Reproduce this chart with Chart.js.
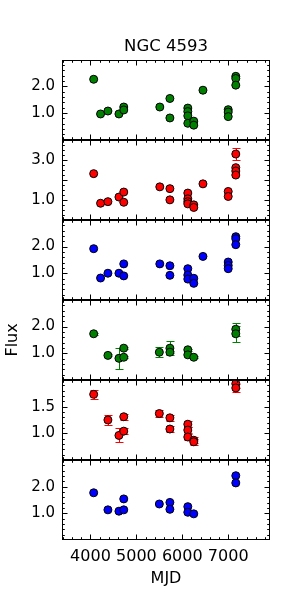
<!DOCTYPE html>
<html>
<head>
<meta charset="utf-8">
<script src="https://cdn.jsdelivr.net/npm/chart.js@4.4.0/dist/chart.umd.min.js"></script>
<style>
  html, body { margin: 0; padding: 0; background: #fff; }
</style>
</head>
<body>
<canvas id="lc" width="300" height="600"></canvas>
<script>
// light curves, six bands stacked top to bottom
const mjdTicks = [4000, 5000, 6000, 7000];

const mjd1  = [4070, 4220, 4380, 4620, 4725, 4725, 5510, 5730, 5730, 6120, 6120, 6120, 6120, 6250, 6250, 6450, 7000, 7000, 7000, 7165, 7165, 7165];
const flux1 = [2.27, 0.97, 1.08, 0.97, 1.23, 1.12, 1.23, 1.55, 0.82, 1.19, 1.06, 0.90, 0.62, 0.70, 0.55, 1.86, 1.13, 1.04, 0.87, 2.38, 2.30, 2.05];
const err1  = [];
const yLabels1 = [1.0, 2.0];

const mjd2  = [4070, 4220, 4380, 4620, 4725, 4725, 5510, 5730, 5730, 6120, 6120, 6120, 6120, 6250, 6250, 6450, 7000, 7000, 7165, 7165, 7165, 7165];
const flux2 = [2.31, 0.83, 0.91, 1.14, 1.39, 0.88, 1.65, 1.56, 1.00, 1.34, 1.05, 0.91, 0.80, 0.75, 0.62, 1.80, 1.42, 1.17, 3.29, 2.61, 2.44, 2.24];
const err2  = [0, 0, 0, 0, 0, 0, 0, 0, 0, 0, 0, 0, 0, 0, 0, 0, 0, 0, 0.29, 0, 0, 0];
const yLabels2 = [1.0, 3.0];

const mjd3  = [4070, 4220, 4380, 4620, 4725, 4725, 5510, 5730, 5730, 6120, 6120, 6120, 6250, 6250, 6450, 7000, 7000, 7000, 7165, 7165, 7165];
const flux3 = [1.92, 0.82, 1.00, 1.00, 1.35, 0.90, 1.35, 1.28, 0.92, 1.17, 0.93, 0.78, 0.81, 0.62, 1.63, 1.42, 1.29, 1.17, 2.37, 2.29, 2.07];
const err3  = [];
const yLabels3 = [1.0, 2.0];

const mjd4  = [4070, 4380, 4620, 4725, 4725, 5500, 5730, 5730, 6120, 6120, 6250, 7165, 7165];
const flux4 = [1.73, 0.92, 0.81, 1.19, 0.85, 1.04, 1.19, 1.04, 1.13, 0.94, 0.85, 1.90, 1.73];
const err4  = [0.04, 0.04, 0.40, 0.04, 0.04, 0.18, 0.26, 0.04, 0.04, 0.04, 0.04, 0.24, 0.31];
const yLabels4 = [1.0, 2.0];

const mjd5  = [4070, 4380, 4620, 4725, 4725, 5500, 5730, 5730, 6120, 6120, 6120, 6250, 6250, 7165, 7165];
const flux5 = [1.73, 1.25, 0.96, 1.31, 1.04, 1.37, 1.29, 1.08, 1.17, 1.06, 0.93, 0.87, 0.84, 1.93, 1.85];
const err5  = [0.09, 0.09, 0.13, 0.06, 0.06, 0.06, 0.06, 0.06, 0.06, 0.06, 0.06, 0.06, 0.06, 0.08, 0.08];
const yLabels5 = [1.0, 1.5];

const mjd6  = [4070, 4380, 4620, 4725, 4725, 5500, 5730, 5730, 6120, 6120, 6250, 7165, 7165];
const flux6 = [1.77, 1.13, 1.08, 1.54, 1.13, 1.35, 1.41, 1.15, 1.25, 1.04, 0.98, 2.41, 2.14];
const err6  = [];
const yLabels6 = [1.0, 2.0];

const FONT = 'DejaVu Sans';
const GREEN = '#008000', RED = '#ff0000', BLUE = '#0000ff';
const X_MINOR = 200;

const panels = [
  {id: 'y1', x: mjd1, y: flux1, e: err1, c: GREEN, min: 0,   max: 3, major: 1,   minor: 0.2,  labels: yLabels1},
  {id: 'y2', x: mjd2, y: flux2, e: err2, c: RED,   min: 0,   max: 4, major: 1,   minor: 0.25, labels: yLabels2},
  {id: 'y3', x: mjd3, y: flux3, e: err3, c: BLUE,  min: 0,   max: 3, major: 1,   minor: 0.2,  labels: yLabels3},
  {id: 'y4', x: mjd4, y: flux4, e: err4, c: GREEN, min: 0,   max: 3, major: 1,   minor: 0.2,  labels: yLabels4, title: 'Flux'},
  {id: 'y5', x: mjd5, y: flux5, e: err5, c: RED,   min: 0.5, max: 2, major: 0.5, minor: 0.1,  labels: yLabels5},
  {id: 'y6', x: mjd6, y: flux6, e: err6, c: BLUE,  min: 0,   max: 3, major: 1,   minor: 0.2,  labels: yLabels6}
];

// error bars with caps, behind the markers
const errorBars = {
  id: 'errorBars',
  beforeDatasetsDraw(chart) {
    const ctx = chart.ctx;
    const xs = chart.scales.x;
    chart.data.datasets.forEach(ds => {
      const ys = chart.scales[ds.yAxisID];
      ctx.save();
      ctx.strokeStyle = ds.backgroundColor;
      ctx.lineWidth = 1;
      ctx.beginPath();
      ds.data.forEach((pt, i) => {
        const e = ds.errs[i];
        if (!e) return;
        const px = Math.round(xs.getPixelForValue(pt.x)) + 0.5;
        const y0 = Math.round(ys.getPixelForValue(pt.y - e)) + 0.5;
        const y1 = Math.round(ys.getPixelForValue(pt.y + e)) + 0.5;
        ctx.moveTo(px, y0); ctx.lineTo(px, y1);
        ctx.moveTo(px - 4, y0); ctx.lineTo(px + 4, y0);
        ctx.moveTo(px - 4, y1); ctx.lineTo(px + 4, y1);
      });
      ctx.stroke();
      ctx.restore();
    });
  }
};

// panel frames with inward ticks on every side
const frames = {
  id: 'frames',
  afterDatasetsDraw(chart) {
    const ctx = chart.ctx;
    const {left, right} = chart.chartArea;
    const xs = chart.scales.x;
    ctx.save();
    ctx.strokeStyle = '#000';
    ctx.lineWidth = 1;
    panels.forEach(p => {
      const ys = chart.scales[p.id];
      const top = Math.round(ys.top), bot = Math.round(ys.bottom);
      ctx.strokeRect(left + 0.5, top + 0.5, right - left - 1, bot - top - 1);
      ctx.beginPath();
      for (let v = Math.ceil(xs.min / X_MINOR) * X_MINOR; v < xs.max; v += X_MINOR) {
        const px = Math.round(xs.getPixelForValue(v)) + 0.5;
        const len = v % 1000 === 0 ? 5.5 : 2.8;
        ctx.moveTo(px, top); ctx.lineTo(px, top + len);
        ctx.moveTo(px, bot); ctx.lineTo(px, bot - len);
      }
      const n = Math.round((p.max - p.min) / p.minor);
      for (let k = 1; k < n; k++) {
        const v = p.min + k * p.minor;
        const py = Math.round(ys.getPixelForValue(v)) + 0.5;
        const r = v / p.major;
        const len = Math.abs(r - Math.round(r)) < 1e-6 ? 5.5 : 2.8;
        ctx.moveTo(left, py); ctx.lineTo(left + len, py);
        ctx.moveTo(right, py); ctx.lineTo(right - len, py);
      }
      ctx.stroke();
    });
    ctx.restore();
  }
};

const scales = {
  x: {
    type: 'linear',
    position: 'bottom',
    min: 3380,
    max: 7910,
    grid: {display: false, drawTicks: false},
    border: {display: false},
    afterBuildTicks: s => { s.ticks = mjdTicks.map(v => ({value: v})); },
    afterFit: s => { s.height = 60; },
    ticks: {
      padding: 7, color: '#000', autoSkip: false, maxRotation: 0,
      font: {family: FONT, size: 16},
      callback: v => String(v)
    },
    title: {
      display: true, text: 'MJD', color: '#000',
      font: {family: FONT, size: 16},
      padding: {top: 0, bottom: 12}
    }
  }
};

panels.forEach((p, i) => {
  scales[p.id] = {
    type: 'linear',
    position: 'left',
    stack: 'flux',
    stackWeight: 1,
    weight: panels.length - i,
    min: p.min,
    max: p.max,
    grid: {display: false, drawTicks: false},
    border: {display: false},
    afterBuildTicks: s => { s.ticks = p.labels.map(v => ({value: v})); },
    afterFit: s => { s.width = 62; },
    ticks: {
      padding: 7, color: '#000',
      font: {family: FONT, size: 15},
      callback: v => Number(v).toFixed(1)
    },
    title: p.title ? {
      display: true, text: p.title, color: '#000',
      font: {family: FONT, size: 16},
      padding: {top: 3, bottom: 0}
    } : {display: false}
  };
});

new Chart(document.getElementById('lc'), {
  type: 'scatter',
  data: {
    datasets: panels.map(p => ({
      data: p.x.map((x, i) => ({x: x, y: p.y[i]})),
      errs: p.e,
      xAxisID: 'x',
      yAxisID: p.id,
      backgroundColor: p.c,
      borderColor: '#000',
      borderWidth: 1,
      pointRadius: 4,
      pointHoverRadius: 4
    }))
  },
  options: {
    responsive: false,
    animation: false,
    layout: {padding: {left: 0, right: 30, top: 0, bottom: 0}},
    scales: scales,
    plugins: {
      legend: {display: false},
      tooltip: {enabled: false},
      title: {
        display: true,
        text: 'NGC 4593',
        fullSize: false,
        color: '#000',
        font: {family: FONT, size: 16.5, weight: 'normal', lineHeight: 1.2},
        padding: {top: 37, bottom: 3}
      }
    }
  },
  plugins: [errorBars, frames]
});
</script>
</body>
</html>
